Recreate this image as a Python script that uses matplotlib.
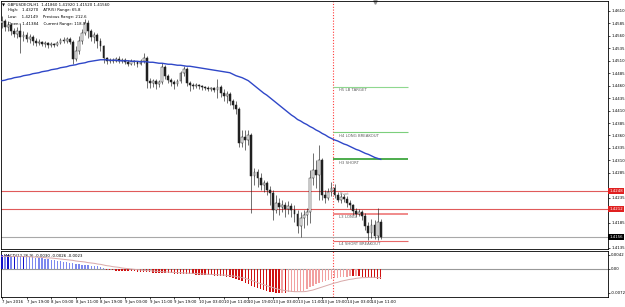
import numpy as np
import matplotlib
matplotlib.use("Agg")
import matplotlib.pyplot as plt
import matplotlib.transforms as mtransforms

# H1 candles, one per hour (7 Jun 11:00 .. 14 Jun 14:00)
opens = [1.4586, 1.4590, 1.4578, 1.4582, 1.4570, 1.4564, 1.4570, 1.4558,
         1.4562, 1.4554, 1.4558, 1.4550, 1.4546, 1.4548, 1.4544, 1.4546,
         1.4542, 1.4544, 1.4542, 1.4546, 1.4552, 1.4550, 1.4554, 1.4548,
         1.4514, 1.4530, 1.4550, 1.4566, 1.4586, 1.4570, 1.4558, 1.4562,
         1.4550, 1.4540, 1.4516, 1.4510, 1.4512, 1.4510, 1.4514, 1.4510,
         1.4512, 1.4508, 1.4504, 1.4510, 1.4508, 1.4504, 1.4510, 1.4516,
         1.4470, 1.4466, 1.4470, 1.4464, 1.4468, 1.4498, 1.4480, 1.4472,
         1.4468, 1.4464, 1.4470, 1.4486, 1.4494, 1.4466, 1.4462, 1.4460,
         1.4462, 1.4460, 1.4458, 1.4456, 1.4454, 1.4456, 1.4452, 1.4458,
         1.4446, 1.4440, 1.4444, 1.4430, 1.4422, 1.4414, 1.4344, 1.4356,
         1.4350, 1.4360, 1.4278, 1.4286, 1.4274, 1.4260, 1.4264, 1.4250,
         1.4244, 1.4210, 1.4224, 1.4216, 1.4220, 1.4212, 1.4218, 1.4210,
         1.4202, 1.4178, 1.4194, 1.4200, 1.4206, 1.4274, 1.4290, 1.4280,
         1.4310, 1.4240, 1.4234, 1.4246, 1.4254, 1.4240, 1.4230, 1.4236,
         1.4232, 1.4224, 1.4220, 1.4208, 1.4202, 1.4206, 1.4198, 1.4178,
         1.4164, 1.4180, 1.4158, 1.4186]
closes = [1.4590, 1.4578, 1.4582, 1.4570, 1.4564, 1.4570, 1.4558, 1.4562,
          1.4554, 1.4558, 1.4550, 1.4546, 1.4548, 1.4544, 1.4546, 1.4542,
          1.4544, 1.4542, 1.4546, 1.4552, 1.4550, 1.4554, 1.4548, 1.4514,
          1.4530, 1.4550, 1.4566, 1.4586, 1.4570, 1.4558, 1.4562, 1.4550,
          1.4540, 1.4516, 1.4510, 1.4512, 1.4510, 1.4514, 1.4510, 1.4512,
          1.4508, 1.4504, 1.4510, 1.4508, 1.4504, 1.4510, 1.4516, 1.4470,
          1.4466, 1.4470, 1.4464, 1.4468, 1.4498, 1.4480, 1.4472, 1.4468,
          1.4464, 1.4470, 1.4486, 1.4494, 1.4466, 1.4462, 1.4460, 1.4462,
          1.4460, 1.4458, 1.4456, 1.4454, 1.4456, 1.4452, 1.4458, 1.4446,
          1.4440, 1.4444, 1.4430, 1.4422, 1.4414, 1.4344, 1.4356, 1.4350,
          1.4360, 1.4278, 1.4286, 1.4274, 1.4260, 1.4264, 1.4250, 1.4244,
          1.4210, 1.4224, 1.4216, 1.4220, 1.4212, 1.4218, 1.4210, 1.4202,
          1.4178, 1.4194, 1.4200, 1.4206, 1.4274, 1.4290, 1.4280, 1.4310,
          1.4240, 1.4234, 1.4246, 1.4254, 1.4240, 1.4230, 1.4236, 1.4232,
          1.4224, 1.4220, 1.4208, 1.4202, 1.4206, 1.4198, 1.4178, 1.4164,
          1.4180, 1.4158, 1.4186, 1.4156]
highs = [1.4600, 1.4594, 1.4590, 1.4586, 1.4576, 1.4578, 1.4586, 1.4570,
         1.4568, 1.4564, 1.4562, 1.4556, 1.4554, 1.4550, 1.4550, 1.4548,
         1.4548, 1.4546, 1.4550, 1.4556, 1.4558, 1.4558, 1.4558, 1.4552,
         1.4540, 1.4560, 1.4574, 1.4594, 1.4592, 1.4574, 1.4568, 1.4566,
         1.4556, 1.4542, 1.4518, 1.4516, 1.4516, 1.4518, 1.4520, 1.4516,
         1.4516, 1.4512, 1.4514, 1.4512, 1.4510, 1.4514, 1.4526, 1.4520,
         1.4476, 1.4474, 1.4474, 1.4472, 1.4506, 1.4502, 1.4484, 1.4476,
         1.4472, 1.4474, 1.4490, 1.4500, 1.4498, 1.4470, 1.4466, 1.4466,
         1.4464, 1.4462, 1.4460, 1.4460, 1.4458, 1.4458, 1.4474, 1.4462,
         1.4454, 1.4450, 1.4448, 1.4434, 1.4430, 1.4418, 1.4370, 1.4370,
         1.4370, 1.4364, 1.4294, 1.4292, 1.4284, 1.4270, 1.4268, 1.4258,
         1.4250, 1.4240, 1.4234, 1.4230, 1.4226, 1.4228, 1.4224, 1.4220,
         1.4210, 1.4206, 1.4210, 1.4214, 1.4290, 1.4324, 1.4310, 1.4340,
         1.4314, 1.4250, 1.4254, 1.4266, 1.4262, 1.4246, 1.4244, 1.4242,
         1.4238, 1.4230, 1.4222, 1.4214, 1.4212, 1.4210, 1.4204, 1.4186,
         1.4192, 1.4190, 1.4214, 1.4192]
lows = [1.4576, 1.4570, 1.4570, 1.4562, 1.4558, 1.4556, 1.4526, 1.4550,
        1.4548, 1.4546, 1.4542, 1.4540, 1.4542, 1.4540, 1.4538, 1.4536,
        1.4538, 1.4538, 1.4540, 1.4544, 1.4546, 1.4546, 1.4544, 1.4504,
        1.4510, 1.4524, 1.4544, 1.4562, 1.4556, 1.4550, 1.4546, 1.4536,
        1.4530, 1.4506, 1.4504, 1.4506, 1.4506, 1.4508, 1.4506, 1.4506,
        1.4504, 1.4500, 1.4502, 1.4502, 1.4498, 1.4502, 1.4506, 1.4456,
        1.4456, 1.4458, 1.4454, 1.4458, 1.4464, 1.4474, 1.4466, 1.4460,
        1.4454, 1.4460, 1.4466, 1.4480, 1.4460, 1.4450, 1.4454, 1.4456,
        1.4454, 1.4452, 1.4452, 1.4450, 1.4450, 1.4448, 1.4436, 1.4438,
        1.4430, 1.4426, 1.4422, 1.4414, 1.4404, 1.4336, 1.4336, 1.4330,
        1.4340, 1.4204, 1.4260, 1.4256, 1.4250, 1.4246, 1.4240, 1.4220,
        1.4190, 1.4204, 1.4200, 1.4206, 1.4196, 1.4202, 1.4196, 1.4186,
        1.4164, 1.4156, 1.4174, 1.4180, 1.4184, 1.4260, 1.4254, 1.4230,
        1.4230, 1.4224, 1.4230, 1.4238, 1.4234, 1.4226, 1.4224, 1.4226,
        1.4216, 1.4212, 1.4200, 1.4196, 1.4198, 1.4190, 1.4170, 1.4150,
        1.4154, 1.4152, 1.4150, 1.4152]

# blue moving average
ma = [1.4470, 1.4471, 1.4473, 1.4474, 1.4476, 1.4477, 1.4478, 1.4480,
      1.4481, 1.4482, 1.4484, 1.4485, 1.4486, 1.4488, 1.4489, 1.4490,
      1.4492, 1.4493, 1.4494, 1.4496, 1.4497, 1.4498, 1.4500, 1.4501,
      1.4502, 1.4504, 1.4505, 1.4506, 1.4508, 1.4509, 1.4510, 1.4511,
      1.4512, 1.4512, 1.4512, 1.4511, 1.4511, 1.4511, 1.4510, 1.4510,
      1.4510, 1.4510, 1.4509, 1.4509, 1.4509, 1.4508, 1.4508, 1.4508,
      1.4507, 1.4507, 1.4506, 1.4505, 1.4505, 1.4504, 1.4503, 1.4503,
      1.4502, 1.4501, 1.4501, 1.4500, 1.4499, 1.4499, 1.4498, 1.4497,
      1.4496, 1.4495, 1.4494, 1.4493, 1.4492, 1.4491, 1.4490, 1.4489,
      1.4488, 1.4487, 1.4486, 1.4483, 1.4480, 1.4478, 1.4476, 1.4473,
      1.4470, 1.4465, 1.4460, 1.4455, 1.4450, 1.4445, 1.4441, 1.4436,
      1.4431, 1.4426, 1.4421, 1.4416, 1.4411, 1.4406, 1.4401, 1.4397,
      1.4392, 1.4389, 1.4385, 1.4382, 1.4378, 1.4375, 1.4371, 1.4368,
      1.4364, 1.4361, 1.4357, 1.4354, 1.4351, 1.4349, 1.4346, 1.4343,
      1.4341, 1.4338, 1.4335, 1.4332, 1.4330, 1.4327, 1.4324, 1.4322,
      1.4319, 1.4316, 1.4314, 1.4312]

# lower panel: histogram and signal line
hist = [0.0042, 0.0041, 0.0041, 0.0040, 0.0040, 0.0039, 0.0038, 0.0038,
        0.0037, 0.0036, 0.0035, 0.0034, 0.0033, 0.0032, 0.0031, 0.0030,
        0.0028, 0.0027, 0.0025, 0.0024, 0.0022, 0.0021, 0.0019, 0.0018,
        0.0016, 0.0014, 0.0013, 0.0012, 0.0011, 0.0010, 0.0009, 0.0008,
        0.0005, 0.0002, -0.0002, -0.0003, -0.0004, -0.0005, -0.0005, -0.0006,
        -0.0006, -0.0007, -0.0007, -0.0007, -0.0008, -0.0008, -0.0008, -0.0009,
        -0.0010, -0.0011, -0.0011, -0.0012, -0.0012, -0.0012, -0.0013, -0.0013,
        -0.0014, -0.0014, -0.0014, -0.0014, -0.0015, -0.0016, -0.0016, -0.0017,
        -0.0017, -0.0018, -0.0018, -0.0019, -0.0019, -0.0020, -0.0020, -0.0021,
        -0.0022, -0.0023, -0.0025, -0.0027, -0.0029, -0.0033, -0.0037, -0.0041,
        -0.0044, -0.0050, -0.0054, -0.0057, -0.0060, -0.0063, -0.0065, -0.0068,
        -0.0070, -0.0072, -0.0072, -0.0071, -0.0071, -0.0070, -0.0069, -0.0068,
        -0.0067, -0.0066, -0.0065, -0.0060, -0.0054, -0.0050, -0.0046, -0.0042,
        -0.0038, -0.0036, -0.0033, -0.0030, -0.0028, -0.0027, -0.0025, -0.0024,
        -0.0023, -0.0022, -0.0022, -0.0021, -0.0022, -0.0023, -0.0024, -0.0025,
        -0.0027, -0.0028, -0.0029, -0.0030]
signal = [0.0038, 0.0038, 0.0038, 0.0038, 0.0038, 0.0038, 0.0038, 0.0037,
          0.0037, 0.0037, 0.0036, 0.0036, 0.0035, 0.0035, 0.0034, 0.0033,
          0.0033, 0.0032, 0.0031, 0.0030, 0.0029, 0.0028, 0.0027, 0.0026,
          0.0024, 0.0023, 0.0022, 0.0021, 0.0019, 0.0018, 0.0017, 0.0015,
          0.0014, 0.0012, 0.0010, 0.0009, 0.0007, 0.0006, 0.0005, 0.0003,
          0.0002, 0.0001, 0.0000, -0.0001, -0.0002, -0.0003, -0.0004, -0.0005,
          -0.0005, -0.0006, -0.0007, -0.0007, -0.0008, -0.0009, -0.0009, -0.0010,
          -0.0010, -0.0011, -0.0011, -0.0012, -0.0012, -0.0013, -0.0013, -0.0014,
          -0.0014, -0.0015, -0.0015, -0.0016, -0.0016, -0.0017, -0.0017, -0.0018,
          -0.0018, -0.0019, -0.0020, -0.0021, -0.0022, -0.0024, -0.0026, -0.0028,
          -0.0031, -0.0034, -0.0037, -0.0041, -0.0044, -0.0047, -0.0050, -0.0053,
          -0.0056, -0.0059, -0.0061, -0.0063, -0.0065, -0.0066, -0.0067, -0.0068,
          -0.0068, -0.0068, -0.0068, -0.0067, -0.0065, -0.0063, -0.0060, -0.0057,
          -0.0054, -0.0051, -0.0048, -0.0045, -0.0042, -0.0040, -0.0037, -0.0035,
          -0.0033, -0.0031, -0.0030, -0.0028, -0.0027, -0.0026, -0.0026, -0.0025,
          -0.0025, -0.0025, -0.0026, -0.0026]

time_labels = ["7 Jun 2016", "7 Jun 19:00", "8 Jun 03:00", "8 Jun 11:00",
               "8 Jun 19:00", "9 Jun 03:00", "9 Jun 11:00", "9 Jun 19:00",
               "10 Jun 03:00", "10 Jun 11:00", "10 Jun 19:00", "13 Jun 03:00",
               "13 Jun 11:00", "13 Jun 19:00", "14 Jun 03:00", "14 Jun 11:00"]

# levels drawn right of the separator
level_names = ["H5 LB TARGET", "H4 LONG BREAKOUT", "H3 SHORT", "L3 LONG", "L4 SHORT BREAKOUT"]
level_prices = [1.4458, 1.4366, 1.4312, 1.4202, 1.4148]
level_colors = ["#8fd88f", "#7ccf7c", "#2e9e2e", "#f08a8a", "#e86a6a"]
level_widths = [0.8, 0.8, 1.2, 1.4, 0.8]
red_lines = [1.4248, 1.4212]
last_price = 1.4156

tags = red_lines + [last_price]
all_ticks = [1.4610 - 0.0025 * k for k in range(20)]
# the scale hides a level that a price tag covers
price_ticks = [t for t in all_ticks if min(abs(t - p) for p in tags) > 0.0013]

FS = 2.8
n = len(closes)
x = np.arange(n)
o = np.array(opens)
c = np.array(closes)

fig = plt.figure(figsize=(6.25, 3.07), dpi=100)
W, H = 625, 307
ax = fig.add_axes([1 / W, 1 - 249 / H, 607 / W, 248 / H])
ax2 = fig.add_axes([1 / W, 1 - 297 / H, 607 / W, 46 / H])

xlim = (-0.3, 196.8)
sep = 107.5
lvl_end = 131.8

# candles
ax.vlines(x, lows, highs, color="#202020", lw=0.45, zorder=3)
up = c >= o
body_bottom = np.minimum(o, c)
body_h = np.maximum(np.abs(c - o), 0.00012)
ax.bar(x[up], body_h[up], bottom=body_bottom[up], width=0.6,
       color="white", edgecolor="#202020", lw=0.35, zorder=4)
ax.bar(x[~up], body_h[~up], bottom=body_bottom[~up], width=0.6,
       color="#202020", edgecolor="#202020", lw=0.35, zorder=4)

ax.plot(x, ma, color="#2f47c8", lw=1.0, zorder=5)

for p in red_lines:
    ax.axhline(p, color="#e05a5a", lw=0.8, zorder=2)
ax.axhline(last_price, color="#a8a8a8", lw=0.8, zorder=2)

for name, p, col, lw in zip(level_names, level_prices, level_colors, level_widths):
    ax.hlines(p, sep, lvl_end, color=col, lw=lw, zorder=2)
    ax.text(sep + 2, p - 0.00025, name, fontsize=FS, color="#606060", va="top", ha="left")
ax.text(sep + 2, red_lines[0] - 0.00025, "Pivot", fontsize=FS, color="#909090", va="top", ha="left")

ax.axvline(sep, color="#ff3a3a", lw=0.8, ls=(0, (1, 1.5)), zorder=1)
ax2.axvline(sep, color="#ff3a3a", lw=0.8, ls=(0, (1, 1.5)), zorder=1)

ax.set_xlim(*xlim)
ax.set_ylim(1.4132, 1.4630)
ax.yaxis.tick_right()
ax.set_yticks(price_ticks)
ax.set_yticklabels(["%.4f" % t for t in price_ticks])
ax.tick_params(axis="y", labelsize=FS, length=1.5, width=0.5, pad=0.8)
ax.set_xticks([])
for s in ax.spines.values():
    s.set_linewidth(0.6)

# price tags on the right scale
tr = mtransforms.blended_transform_factory(ax.transAxes, ax.transData)
for p in red_lines:
    ax.text(1.002, p, "%.4f" % p, transform=tr, fontsize=FS, color="white", va="center",
            ha="left", bbox=dict(boxstyle="square,pad=0.25", fc="#e02020", ec="none"), zorder=10)
ax.text(1.002, last_price, "%.4f" % last_price, transform=tr, fontsize=FS, color="white",
        va="center", ha="left", bbox=dict(boxstyle="square,pad=0.25", fc="black", ec="none"), zorder=10)

ax.plot([121.0], [1.4628], marker="v", color="#909090", ms=2.5, clip_on=False)

# header text
fig.text(2 / W, 1 - 2 / H, "\u25bc  GBPUSDECN,H1  1.41860 1.41920 1.41520 1.41560",
         fontsize=FS, va="top", ha="left")
info = ["High:   1.43270    ATR(5) Range: 65.8",
        "Low:    1.42149    Previous Range: 212.6",
        "Open:  1.41384    Current Range: 118.9"]
for k, line in enumerate(info):
    fig.text(8 / W, 1 - (8.5 + 6.5 * k) / H, line, fontsize=FS, va="top", ha="left")

# lower panel
h = np.array(hist)
prev = np.concatenate([[h[0]], h[:-1]])
cols = []
for v, pv in zip(h, prev):
    if v >= 0:
        cols.append("#1010c8" if v >= pv else "#7c88ee")
    else:
        cols.append("#d01010" if v <= pv else "#f2a0a0")
ax2.bar(x, h, width=0.45, color=cols, zorder=3)
ax2.plot(x, signal, color="#d8a8a8", lw=0.7, zorder=4)
ax2.axhline(0, color="#999999", lw=0.8, zorder=2)
ax2.set_xlim(*xlim)
ax2.set_ylim(-0.0084, 0.0054)
ax2.yaxis.tick_right()
ax2.set_yticks([0.0042, 0.0, -0.0072])
ax2.set_yticklabels(["0.0042", "0.00", "-0.0072"])
ax2.tick_params(axis="y", labelsize=FS, length=1.5, width=0.5, pad=0.8)
ax2.set_xticks(np.arange(len(time_labels)) * 8)
ax2.set_xticklabels(time_labels, ha="left")
ax2.tick_params(axis="x", labelsize=FS, length=1.5, width=0.5, pad=0.5)
for s in ax2.spines.values():
    s.set_linewidth(0.6)
ax2.text(0.005, 0.93, "MACD(12,26,9) -0.0030 -0.0026 -0.0023", transform=ax2.transAxes,
         fontsize=FS, va="top", ha="left")

fig.savefig("out.png", dpi=100)
